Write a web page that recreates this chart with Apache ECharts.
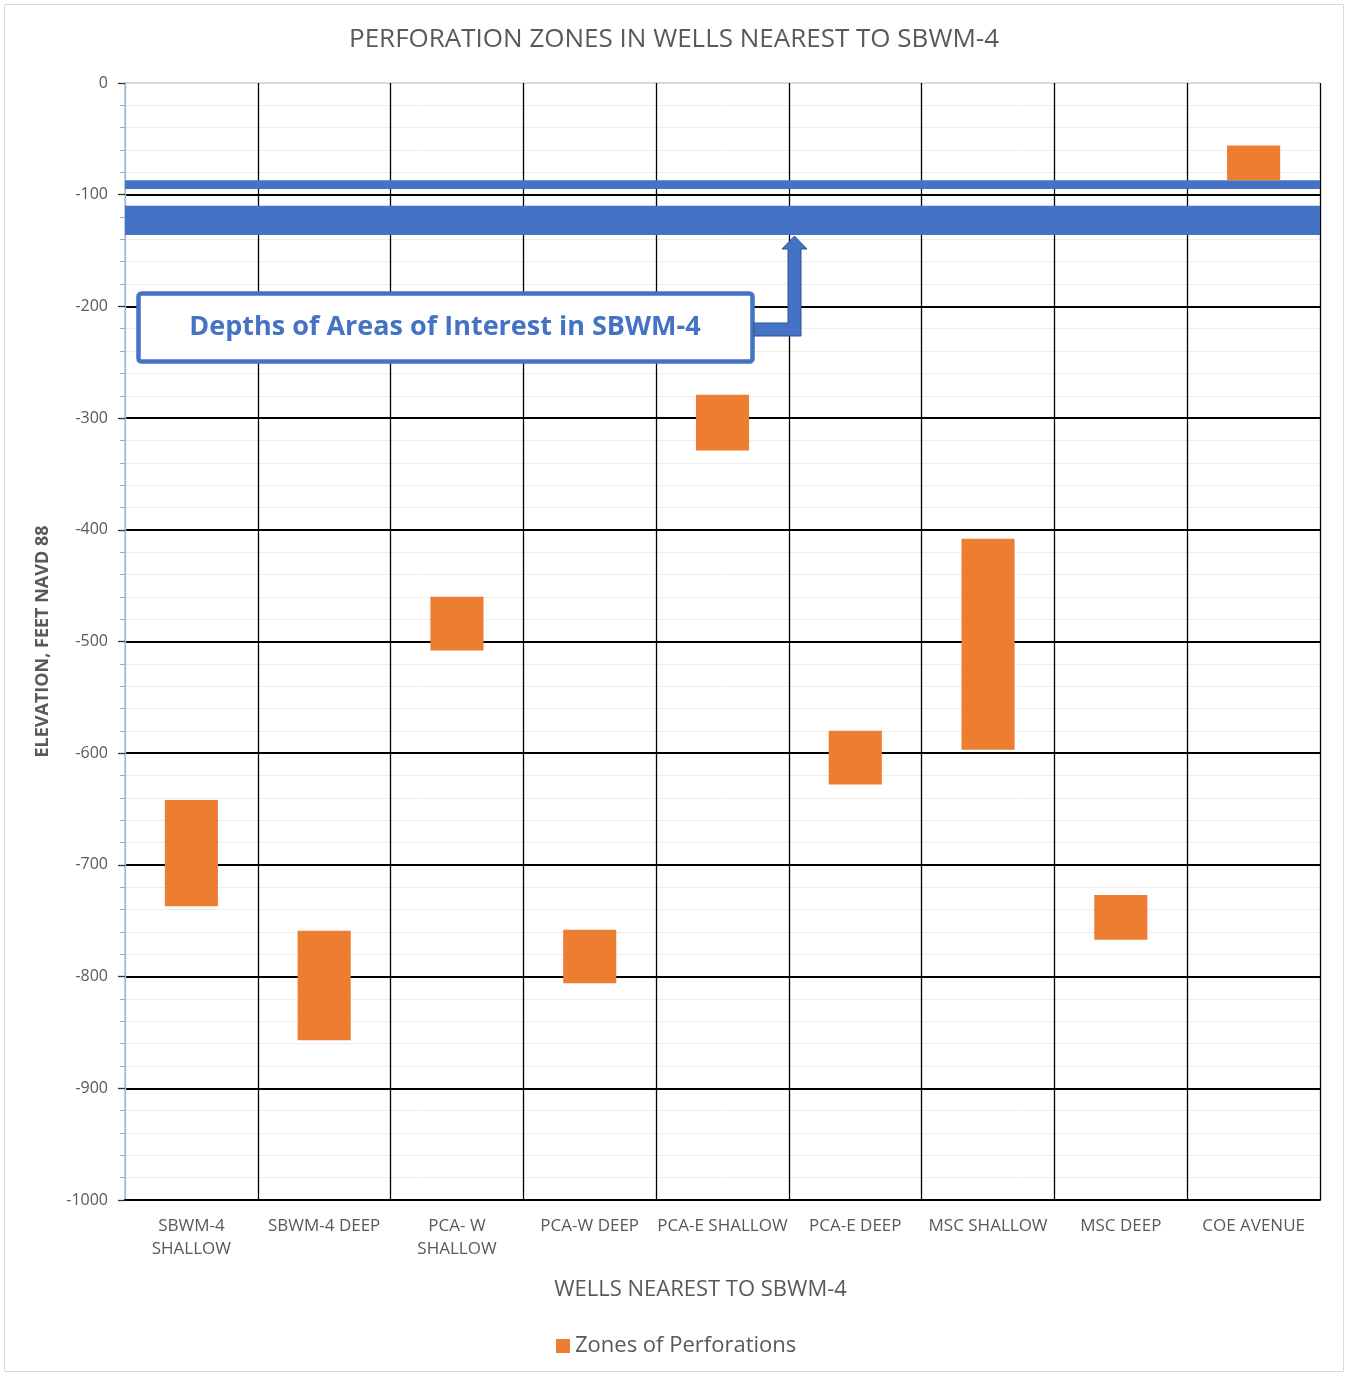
<!DOCTYPE html>
<html>
<head>
<meta charset="utf-8">
<title>Perforation Zones in Wells Nearest to SBWM-4</title>
<script src="https://cdn.jsdelivr.net/npm/echarts@6/dist/echarts.min.js"></script>
<style>
  html, body { margin: 0; padding: 0; background: #ffffff; }
  #chart { width: 1348px; height: 1373px; }
</style>
</head>
<body>
<div id="chart"></div>
<script>
// Wells along the x axis
const wells = [
  'SBWM-4\nSHALLOW', 'SBWM-4 DEEP', 'PCA- W\nSHALLOW', 'PCA-W DEEP',
  'PCA-E SHALLOW', 'PCA-E DEEP', 'MSC SHALLOW', 'MSC DEEP', 'COE AVENUE'
];
// Perforated interval of each well, elevation in feet (NAVD 88)
const zoneTop    = [-642, -759, -460, -758, -279, -580, -408, -727, -56];
const zoneBottom = [-737, -857, -508, -806, -329, -628, -597, -767, -87];
// Depth bands of interest in SBWM-4
const bandTop    = [-87, -110];
const bandBottom = [-95, -136];
// Elevation axis
const yMin = -1000, yMax = 0, yStep = 100;

const FONT = "'Open Sans', 'Noto Sans', sans-serif";
const GREY = '#595959';
const ORANGE = '#ED7D31';
const BLUE = '#4472C4';

const zoneSpan = zoneTop.map((t, i) => zoneBottom[i] - t);
const nYLines = Math.round((yMax - yMin) / yStep) + 1;
const yLineColors = Array.from({ length: nYLines }, (_, i) => i === nYLines - 1 ? '#D9D9D9' : '#000000');
const xLineColors = Array.from({ length: wells.length + 1 }, (_, i) => i === 0 ? '#A9BCD0' : '#000000');

const chart = echarts.init(document.getElementById('chart'), null, { renderer: 'canvas' });

chart.setOption({
  backgroundColor: '#ffffff',
  animation: false,
  textStyle: { fontFamily: FONT },
  title: {
    text: 'PERFORATION ZONES IN WELLS NEAREST TO SBWM-4',
    left: 'center',
    top: 27,
    padding: 0,
    textStyle: { fontFamily: FONT, fontSize: 26, fontWeight: 'normal', color: GREY }
  },
  legend: {
    data: ['Zones of Perforations'],
    left: 556,
    top: 1335,
    padding: 0,
    icon: 'rect',
    itemWidth: 14,
    itemHeight: 14,
    itemGap: 6,
    textStyle: { fontFamily: FONT, fontSize: 22, color: GREY }
  },
  grid: { left: 125, right: 28, top: 83, bottom: 173, containLabel: false },
  xAxis: {
    type: 'category',
    data: wells,
    position: 'bottom',
    name: 'WELLS NEAREST TO SBWM-4',
    nameLocation: 'middle',
    nameGap: 79,
    nameTextStyle: { fontFamily: FONT, fontSize: 22, color: GREY, padding: [0, 44, 0, 0] },
    axisLine: { onZero: false, lineStyle: { color: '#000000', width: 2 } },
    axisTick: { show: false },
    axisLabel: {
      interval: 0,
      margin: 15,
      fontFamily: FONT,
      fontSize: 17,
      lineHeight: 23,
      color: GREY
    },
    splitLine: { show: true, interval: 0, lineStyle: { color: xLineColors, width: 1.3 } }
  },
  yAxis: {
    type: 'value',
    min: yMin,
    max: yMax,
    interval: yStep,
    name: 'ELEVATION, FEET NAVD 88',
    nameLocation: 'middle',
    nameGap: 73,
    nameRotate: 90,
    nameTextStyle: { fontFamily: FONT, fontSize: 18, fontWeight: 'bold', color: GREY },
    axisLine: { show: true, lineStyle: { color: '#A9BCD0', width: 1.5 } },
    axisTick: { show: true, length: 7, lineStyle: { color: '#333333', width: 1.3 } },
    minorTick: { show: true, splitNumber: 5, length: 5, lineStyle: { color: '#9AA8B8' } },
    axisLabel: {
      margin: 17,
      fontFamily: FONT,
      fontSize: 16,
      color: GREY,
      formatter: v => String(v)
    },
    splitLine: { show: true, lineStyle: { color: yLineColors, width: 2 } },
    minorSplitLine: { show: true, lineStyle: { color: '#EDEDED', width: 1 } }
  },
  series: [
    {
      name: 'base',
      type: 'bar',
      stack: 'zone',
      silent: true,
      barWidth: '40%',
      itemStyle: { color: 'rgba(0,0,0,0)' },
      data: zoneTop,
      markArea: {
        silent: true,
        itemStyle: { color: BLUE, opacity: 1 },
        data: bandTop.map((t, i) => [{ yAxis: t }, { yAxis: bandBottom[i] }])
      }
    },
    {
      name: 'Zones of Perforations',
      type: 'bar',
      stack: 'zone',
      barWidth: '40%',
      itemStyle: { color: ORANGE },
      data: zoneSpan
    }
  ],
  graphic: [
    {
      type: 'rect',
      z: 0,
      silent: true,
      shape: { x: 4.5, y: 4.5, width: 1339, height: 1367 },
      style: { fill: null, stroke: '#D9D9D9', lineWidth: 1 }
    },
    {
      type: 'rect',
      z: 100,
      shape: { x: 138.5, y: 293.5, width: 614, height: 68, r: 3 },
      style: { fill: '#ffffff', stroke: BLUE, lineWidth: 4.5 }
    },
    {
      type: 'text',
      z: 101,
      x: 445,
      y: 327,
      style: {
        text: 'Depths of Areas of Interest in SBWM-4',
        fill: BLUE,
        font: "bold 27px 'Open Sans', 'Noto Sans', sans-serif",
        align: 'center',
        verticalAlign: 'middle'
      }
    },
    {
      type: 'polygon',
      z: 100,
      shape: {
        points: [
          [754, 323], [788, 323], [788, 249], [782, 249], [794.5, 236],
          [807, 249], [801, 249], [801, 336], [754, 336]
        ]
      },
      style: { fill: BLUE, stroke: '#2F528F', lineWidth: 1 }
    }
  ]
});
</script>
</body>
</html>
